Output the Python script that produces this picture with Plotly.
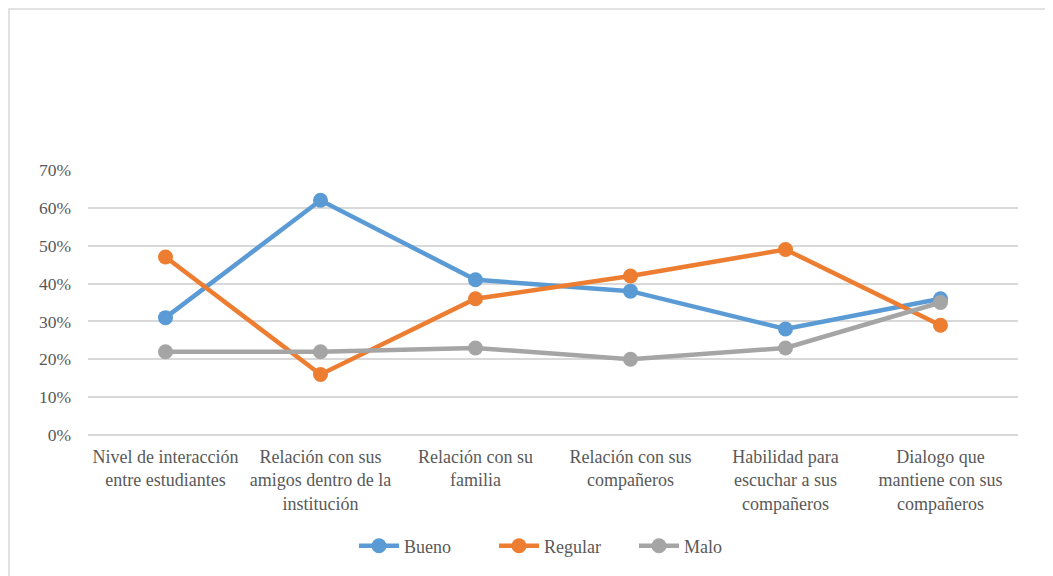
import plotly.graph_objects as go

categories = [
    "Nivel de interacción<br>entre estudiantes",
    "Relación con sus<br>amigos dentro de la<br>institución",
    "Relación con su<br>familia",
    "Relación con sus<br>compañeros",
    "Habilidad para<br>escuchar a sus<br>compañeros",
    "Dialogo que<br>mantiene con sus<br>compañeros",
]
bueno = [0.31, 0.62, 0.41, 0.38, 0.28, 0.36]
regular = [0.47, 0.16, 0.36, 0.42, 0.49, 0.29]
malo = [0.22, 0.22, 0.23, 0.20, 0.23, 0.35]

series = [("Bueno", bueno, "#5B9BD5"), ("Regular", regular, "#ED7D31"), ("Malo", malo, "#A5A5A5")]

FONT = "Liberation Serif, Times New Roman, serif"
GREY = "#595959"

fig = go.Figure()
for name, vals, color in series:
    fig.add_trace(go.Scatter(
        x=categories, y=vals, name=name, mode="lines+markers",
        line=dict(color=color, width=4.5),
        marker=dict(color=color, size=15),
    ))

L, R, T, B = 80, 35, 162, 141
W, H = 1045, 568
pw, ph = W - L - R, H - T - B

fig.update_layout(
    width=W, height=H,
    margin=dict(l=L, r=R, t=T, b=B),
    paper_bgcolor="white", plot_bgcolor="white",
    font=dict(family=FONT, size=18, color=GREY),
    showlegend=True,
    legend=dict(orientation="h", x=(564 - 8 - L) / pw, xanchor="center",
                y=(T + ph - 538) / ph, yanchor="middle",
                entrywidth=85, entrywidthmode="pixels", itemwidth=40,
                font=dict(family=FONT, size=18, color=GREY), traceorder="normal"),
    xaxis=dict(range=[-0.5, 5.5], showgrid=False, zeroline=False, showline=False,
               ticks="", ticklabelstandoff=9, tickfont=dict(family=FONT, size=18, color=GREY)),
    yaxis=dict(range=[0, 0.7], dtick=0.1, tickformat=".0%", showgrid=True,
               gridcolor="#D9D9D9", gridwidth=1.5, zeroline=True, zerolinecolor="#D9D9D9",
               zerolinewidth=1.5, showline=False, ticks="", ticklabelstandoff=16,
               tickfont=dict(family=FONT, size=17.5, color=GREY)),
    shapes=[dict(type="rect", xref="paper", yref="paper",
                 x0=(1 - L) / pw, x1=(W + 10 - L) / pw,
                 y0=-(B + 10) / ph, y1=(T + ph - 1) / ph,
                 line=dict(color="#D9D9D9", width=1.5), fillcolor="rgba(0,0,0,0)", layer="below")],
)

fig.write_html("out.html")
